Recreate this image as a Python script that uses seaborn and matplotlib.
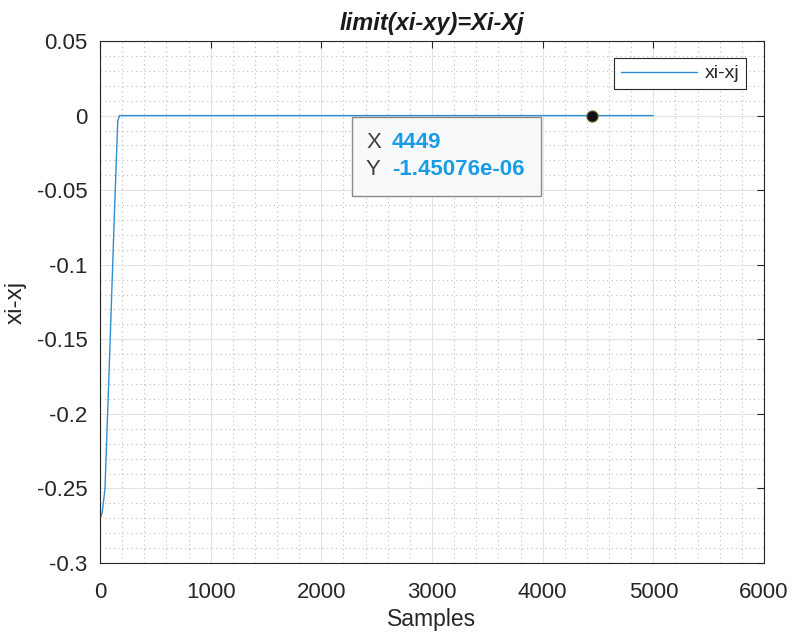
import numpy as np
import pandas as pd
import matplotlib
matplotlib.use("Agg")
import matplotlib.pyplot as plt
from matplotlib.ticker import MultipleLocator
from matplotlib.patches import Rectangle
import seaborn as sns

# Valores (muestras y diferencia xi-xj)
muestras = [1, 20, 45, 90, 130, 160, 175, 1000, 2000, 3000, 4000, 5000]
diferencia = [-0.27, -0.266, -0.25, -0.154, -0.066, -0.004, 0.0, 0.0, 0.0, 0.0, 0.0, 0.0]

# Datatip
tip_x = 4449
tip_y = -1.45076e-06

xticks = [0, 1000, 2000, 3000, 4000, 5000, 6000]
yticks = [0.05, 0, -0.05, -0.1, -0.15, -0.2, -0.25, -0.3]
ytick_labels = ["0.05", "0", "-0.05", "-0.1", "-0.15", "-0.2", "-0.25", "-0.3"]

df = pd.DataFrame({"Samples": muestras, "xi-xj": diferencia})

sns.set_style("white")
plt.rcParams["font.family"] = ["Liberation Sans", "DejaVu Sans"]
plt.rcParams["axes.unicode_minus"] = False

fig = plt.figure(figsize=(7.97, 6.35), dpi=100)
ax = fig.add_axes([0.1255, 0.1134, 0.8331, 0.822])

sns.lineplot(data=df, x="Samples", y="xi-xj", ax=ax, color="#2f8fd2",
             linewidth=1.0, label="xi-xj")

# marcador del datatip
ax.plot([tip_x], [tip_y], marker="o", markersize=8, color="#111111",
        markeredgecolor="#6b5f2a", markeredgewidth=0.8, zorder=5, linestyle="none")

ax.set_xlim(0, 6000)
ax.set_ylim(-0.3, 0.05)
ax.set_xticks(xticks)
ax.set_yticks(yticks)
ax.set_yticklabels(ytick_labels)
ax.xaxis.set_minor_locator(MultipleLocator(200))
ax.yaxis.set_minor_locator(MultipleLocator(0.01))

ax.grid(which="major", color="#e3e3e3", linewidth=0.8, linestyle="-")
ax.grid(which="minor", color="#bdbdbd", linewidth=0.8, linestyle=(0, (1, 3)))
ax.set_axisbelow(True)

for s in ax.spines.values():
    s.set_visible(True)
    s.set_color("#262626")
    s.set_linewidth(0.8)

ax.tick_params(which="major", direction="in", length=5, width=0.8, color="#262626",
               top=True, right=True, labelsize=16, pad=9, labelcolor="#262626")
ax.tick_params(axis="x", which="major", pad=14)
ax.tick_params(which="minor", length=0)

ax.set_xlabel("Samples", fontsize=16.5, color="#262626", labelpad=3)
ax.set_ylabel("xi-xj", fontsize=17.5, color="#262626", labelpad=7)
ax.set_title("limit(xi-xy)=Xi-Xj", fontsize=17, fontweight="bold", fontstyle="italic",
             color="#1a1a1a", pad=8)

leg = ax.legend(loc="upper right", bbox_to_anchor=(0.973, 0.9674), borderaxespad=0,
                fontsize=14, frameon=True, fancybox=False, framealpha=1,
                edgecolor="#262626", handlelength=3.9, handletextpad=0.4,
                borderpad=0.35)
leg.get_frame().set_linewidth(0.8)

# caja del datatip
caja = Rectangle((0.3795, 0.703), 0.2846, 0.1514, transform=ax.transAxes,
                 facecolor="#f8f9fb", edgecolor="#8a8a8a", linewidth=1.0, zorder=6)
ax.add_patch(caja)
ax.text(0.4006, 0.8065, "X", transform=ax.transAxes, fontsize=16, color="#404040",
        va="center", ha="left", zorder=7)
ax.text(0.4006, 0.7529, "Y", transform=ax.transAxes, fontsize=16, color="#404040",
        va="center", ha="left", zorder=7)
ax.text(0.4398, 0.8065, f"{tip_x}", transform=ax.transAxes, fontsize=16,
        color="#1a9be6", fontweight="bold", va="center", ha="left", zorder=7)
ax.text(0.4398, 0.7529, f"{tip_y:.5e}", transform=ax.transAxes,
        fontsize=16, color="#1a9be6", fontweight="bold", va="center", ha="left", zorder=7)

fig.savefig("out.png", dpi=100)
